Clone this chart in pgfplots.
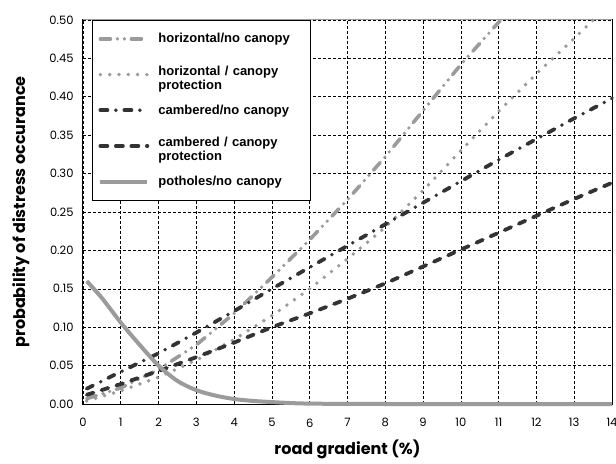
\documentclass[border=0pt]{standalone}
\usepackage{fontspec}
\usepackage{pgfplots}
\usepackage{pgfplotstable}
\pgfplotsset{compat=1.18}
\newfontfamily\gfont{Poppins}
\newfontfamily\lfont{Liberation Sans}
\definecolor{lgray}{HTML}{9B9B9B}
\definecolor{dgray}{HTML}{333333}

% two-line legend texts
\newcommand\twolines[2]{\begin{tabular}{@{}l@{}}#1\\#2\end{tabular}}
\newcommand\hcpentry{\twolines{horizontal / canopy}{protection}}
\newcommand\ccpentry{\twolines{cambered / canopy}{protection}}

% distress probability against road gradient (%)
\pgfplotstableread{
x y
0.1 0.007
1 0.021
2 0.045
3 0.077
4 0.118
5 0.165
6 0.214
7 0.266
8 0.322
9 0.382
10 0.442
11 0.497
11.05 0.500
}\horizNoCanopy
\pgfplotstableread{
x y
0.1 0.004
1 0.017
2 0.035
3 0.057
4 0.084
5 0.115
6 0.150
7 0.189
8 0.230
9 0.278
10 0.330
11 0.381
12 0.430
13 0.476
13.5 0.500
}\horizCanopy
\pgfplotstableread{
x y
0.1 0.020
1 0.042
2 0.066
3 0.093
4 0.121
5 0.150
6 0.178
7 0.206
8 0.234
9 0.262
10 0.290
11 0.318
12 0.345
13 0.372
14 0.398
}\cambNoCanopy
\pgfplotstableread{
x y
0.1 0.012
1 0.026
2 0.043
3 0.061
4 0.080
5 0.100
6 0.118
7 0.137
8 0.157
9 0.179
10 0.201
11 0.223
12 0.245
13 0.267
14 0.288
}\cambCanopy
\pgfplotstableread{
x y
0.1 0.160
0.5 0.138
1.0 0.106
1.5 0.077
2.0 0.050
2.5 0.030
3.0 0.018
3.5 0.011
4.0 0.0065
4.5 0.004
5.0 0.0025
5.5 0.0012
6.0 0.0005
7.0 0.0001
8 0
10 0
12 0
14 0
}\potholes

\tikzset{
  hnc/.style={lgray, line width=3.6bp, line cap=round, dash pattern=on 10bp off 7bp on 0bp off 7bp on 0bp off 7bp},
  hcp/.style={lgray, line width=3.8bp, line cap=round, dash pattern=on 0bp off 9.3bp},
  cnc/.style={dgray, line width=3.8bp, line cap=round, dash pattern=on 7bp off 8.5bp on 0bp off 8.5bp},
  ccp/.style={dgray, line width=3.8bp, line cap=round, dash pattern=on 7bp off 8.5bp},
  pnc/.style={lgray, line width=4bp},
}

\begin{document}
\begin{tikzpicture}
\useasboundingbox (-83bp,-60bp) rectangle (533bp,404bp);
\begin{axis}[
  scale only axis, width=529bp, height=384bp,
  xmin=0, xmax=14, ymin=0, ymax=0.5,
  xtick={0,1,2,3,4,5,6,7,8,9,10,11,12,13,14},
  ytick={0,0.05,0.10,0.15,0.20,0.25,0.30,0.35,0.40,0.45,0.50},
  grid=major,
  major grid style={black, line width=0.6bp, dash pattern=on 3bp off 2bp},
  major tick length=0pt,
  axis line style={black, line width=1bp},
  clip=false,
  /pgf/number format/assume math mode=true,
  xticklabel style={font=\gfont\fontsize{11.5bp}{13bp}\selectfont},
  yticklabel style={font=\gfont\fontsize{11.5bp}{13bp}\selectfont,
    /pgf/number format/fixed, /pgf/number format/fixed zerofill,
    /pgf/number format/precision=2},
  xticklabel shift=11bp,
  yticklabel shift=6bp,
  xlabel={road gradient (\%)},
  ylabel={probability of distress occurance},
  label style={font=\gfont\bfseries\fontsize{16bp}{18bp}\selectfont},
  xlabel style={at={(axis description cs:0.5,-0.1328)}, anchor=base},
  ylabel style={at={(axis description cs:-0.1096,0.5)}, anchor=base},
  legend cell align=left,
  legend image code/.code={\draw[#1] (0bp,0bp) -- (47bp,0bp);},
  legend style={at={(axis description cs:0.017,1)}, anchor=north west,
    draw=black, line width=0.8bp, fill=white,
    inner xsep=6bp, inner ysep=13bp, row sep=21bp, column sep=9bp,
    nodes={inner sep=0pt, text width=146bp},
    font=\lfont\bfseries\fontsize{13bp}{14bp}\selectfont},
]
\addplot[hnc] table {\horizNoCanopy};
\addlegendentry{horizontal/no canopy}
\addplot[hcp] table {\horizCanopy};
\addlegendentry{\hcpentry}
\addplot[cnc] table {\cambNoCanopy};
\addlegendentry{cambered/no canopy}
\addplot[ccp] table {\cambCanopy};
\addlegendentry{\ccpentry}
\addplot[pnc, smooth] table {\potholes};
\addlegendentry{potholes/no canopy}
\draw[lgray, line width=1bp] (rel axis cs:0,1) -- (rel axis cs:1,1);
\end{axis}
\end{tikzpicture}
\end{document}
